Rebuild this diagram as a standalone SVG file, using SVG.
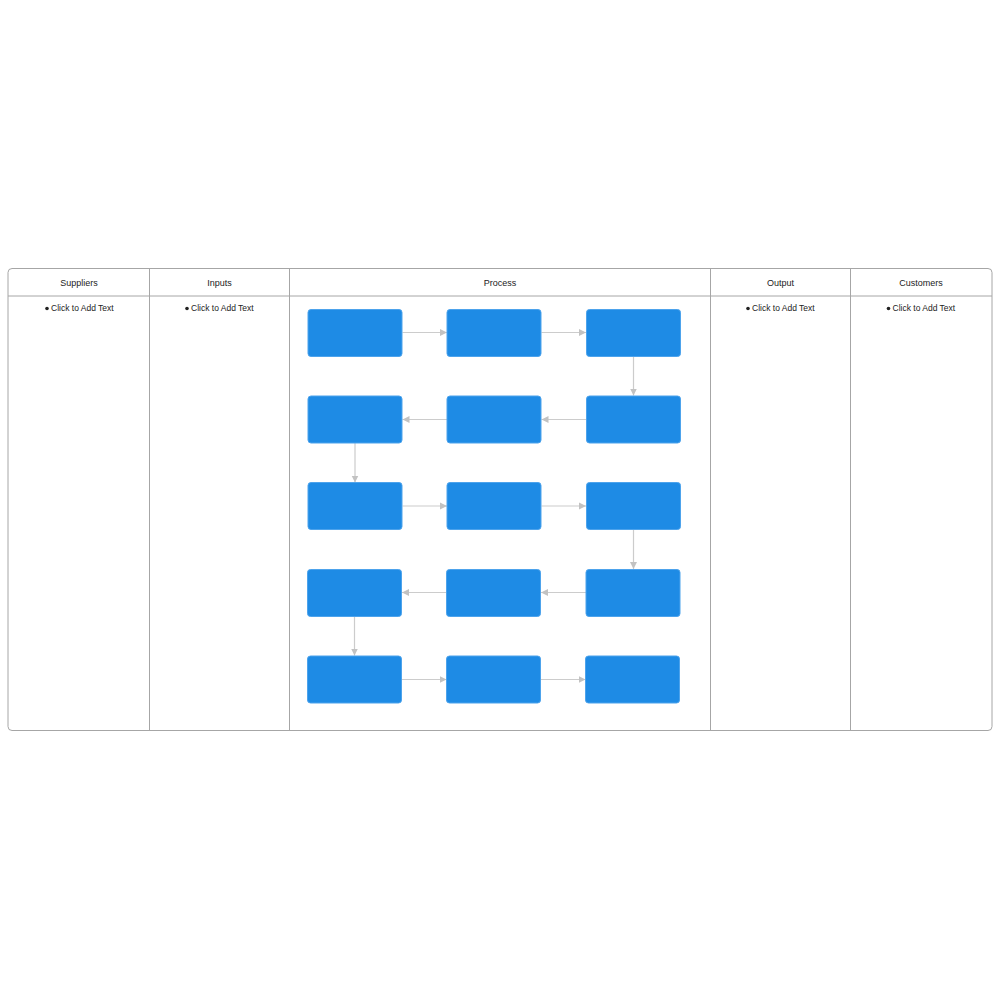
<svg xmlns="http://www.w3.org/2000/svg" width="1000" height="1000" viewBox="0 0 1000 1000">
<defs>
<style>
.frame{fill:none;stroke:#a6a6a6;stroke-width:1}
.div{stroke:#a6a6a6;stroke-width:1}
.hd{font-family:"Liberation Sans",Arial,sans-serif;font-size:9px;fill:#222;text-anchor:middle}
.bl{font-family:"Liberation Sans",Arial,sans-serif;font-size:8.5px;fill:#222}
.box{fill:#1e8be5;stroke:#4da3ec;stroke-width:1}
.con{fill:none;stroke:#cccccc;stroke-width:1.2}
</style>
<marker id="ah" markerWidth="8" markerHeight="8" refX="7" refY="4" orient="auto" markerUnits="userSpaceOnUse">
<path d="M0,0.5 L7,4 L0,7.5 Z" fill="#c2c2c2"/>
</marker>
</defs>
<rect x="0" y="0" width="1000" height="1000" fill="#ffffff"/>
<g id="table">
<rect class="frame" x="8" y="268.5" width="984" height="462" rx="4"/>
<line class="div" x1="8" y1="296" x2="992" y2="296"/>
<line class="div" x1="149.5" y1="268.5" x2="149.5" y2="730.5"/>
<line class="div" x1="289.5" y1="268.5" x2="289.5" y2="730.5"/>
<line class="div" x1="710.5" y1="268.5" x2="710.5" y2="730.5"/>
<line class="div" x1="850.5" y1="268.5" x2="850.5" y2="730.5"/>
<text class="hd" x="79" y="286">Suppliers</text>
<text class="hd" x="219.5" y="286">Inputs</text>
<text class="hd" x="500" y="286">Process</text>
<text class="hd" x="780.5" y="286">Output</text>
<text class="hd" x="921" y="286">Customers</text>
<g id="bullets">
<circle cx="47" cy="308.5" r="1.8" fill="#222"/><text class="bl" x="51" y="311">Click to Add Text</text>
<circle cx="187" cy="308.5" r="1.8" fill="#222"/><text class="bl" x="191" y="311">Click to Add Text</text>
<circle cx="748" cy="308.5" r="1.8" fill="#222"/><text class="bl" x="752" y="311">Click to Add Text</text>
<circle cx="888.5" cy="308.5" r="1.8" fill="#222"/><text class="bl" x="892.5" y="311">Click to Add Text</text>
</g>
</g>
<g id="connectors">
<line class="con" x1="402.5" y1="332.5" x2="447" y2="332.5" marker-end="url(#ah)"/>
<line class="con" x1="541.5" y1="332.5" x2="586" y2="332.5" marker-end="url(#ah)"/>
<line class="con" x1="633.5" y1="356.5" x2="633.5" y2="395.5" marker-end="url(#ah)"/>
<line class="con" x1="586" y1="419.5" x2="541.5" y2="419.5" marker-end="url(#ah)"/>
<line class="con" x1="447" y1="419.5" x2="402.5" y2="419.5" marker-end="url(#ah)"/>
<line class="con" x1="355" y1="443" x2="355" y2="482.5" marker-end="url(#ah)"/>
<line class="con" x1="402.5" y1="506" x2="447" y2="506" marker-end="url(#ah)"/>
<line class="con" x1="541.5" y1="506" x2="586" y2="506" marker-end="url(#ah)"/>
<line class="con" x1="633.5" y1="529.5" x2="633.5" y2="569" marker-end="url(#ah)"/>
<line class="con" x1="586" y1="592.5" x2="541" y2="592.5" marker-end="url(#ah)"/>
<line class="con" x1="446.5" y1="592.5" x2="402" y2="592.5" marker-end="url(#ah)"/>
<line class="con" x1="354.5" y1="616.5" x2="354.5" y2="655.5" marker-end="url(#ah)"/>
<line class="con" x1="402" y1="679.5" x2="446.5" y2="679.5" marker-end="url(#ah)"/>
<line class="con" x1="541" y1="679.5" x2="585.5" y2="679.5" marker-end="url(#ah)"/>
</g>
<g id="n1"><rect class="box" x="308" y="309.5" width="94" height="47" rx="3"/></g>
<g id="n2"><rect class="box" x="447" y="309.5" width="94" height="47" rx="3"/></g>
<g id="n3"><rect class="box" x="586.5" y="309.5" width="94" height="47" rx="3"/></g>
<g id="n4"><rect class="box" x="586.5" y="396" width="94" height="47" rx="3"/></g>
<g id="n5"><rect class="box" x="447" y="396" width="94" height="47" rx="3"/></g>
<g id="n6"><rect class="box" x="308" y="396" width="94" height="47" rx="3"/></g>
<g id="n7"><rect class="box" x="308" y="482.5" width="94" height="47" rx="3"/></g>
<g id="n8"><rect class="box" x="447" y="482.5" width="94" height="47" rx="3"/></g>
<g id="n9"><rect class="box" x="586.5" y="482.5" width="94" height="47" rx="3"/></g>
<g id="n10"><rect class="box" x="586" y="569.5" width="94" height="47" rx="3"/></g>
<g id="n11"><rect class="box" x="446.5" y="569.5" width="94" height="47" rx="3"/></g>
<g id="n12"><rect class="box" x="307.5" y="569.5" width="94" height="47" rx="3"/></g>
<g id="n13"><rect class="box" x="307.5" y="656" width="94" height="47" rx="3"/></g>
<g id="n14"><rect class="box" x="446.5" y="656" width="94" height="47" rx="3"/></g>
<g id="n15"><rect class="box" x="585.5" y="656" width="94" height="47" rx="3"/></g>
</svg>
